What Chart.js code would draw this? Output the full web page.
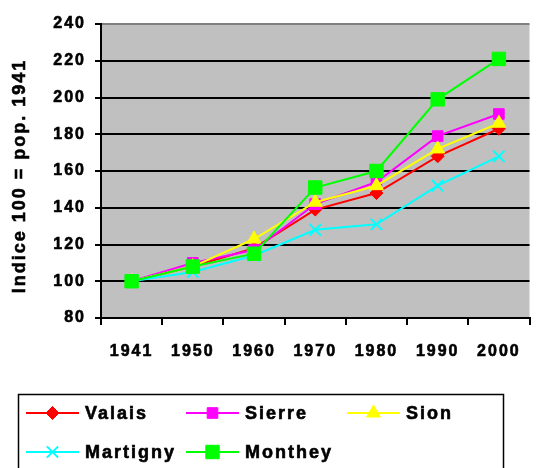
<!DOCTYPE html>
<html>
<head>
<meta charset="utf-8">
<script src="https://cdn.jsdelivr.net/npm/chart.js@4/dist/chart.umd.min.js"></script>
<style>
  body { margin: 0; background: #fff; }
  canvas { display: block; }
</style>
</head>
<body>
<canvas id="myChart" width="540" height="468"></canvas>
<script>
// data (index 100 = population 1941)
const years = ['1941', '1950', '1960', '1970', '1980', '1990', '2000'];
const valais = [100, 108, 118, 139, 148, 168, 183];
const sierre = [100, 110, 117, 142, 154, 179, 191];
const sion = [100, 108, 123, 143, 152, 172, 186];
const martigny = [100, 105, 114, 128, 131, 152, 168];
const monthey = [100, 108, 115, 151, 160, 199, 221];
const yTicks = [80, 100, 120, 140, 160, 180, 200, 220, 240];
const yTitle = 'Indice 100 = pop. 1941';

const fontFamily = 'Arial, "Liberation Sans", sans-serif';

// series look: color, marker, marker size
const series = [
    { label: 'Valais', data: valais, color: '#FF0000', style: 'rectRot', r: 6.5 },
    { label: 'Sierre', data: sierre, color: '#FF00FF', style: 'rect', r: 7.5 },
    { label: 'Sion', data: sion, color: '#FFFF00', style: 'triangle', r: 8 },
    { label: 'Martigny', data: martigny, color: '#00FFFF', style: 'crossRot', r: 8 },
    { label: 'Monthey', data: monthey, color: '#00FF00', style: 'rect', r: 9.5 }
];

const datasets = series.map((s, i) => ({
    label: s.label,
    data: s.data,
    borderColor: s.color,
    backgroundColor: s.color,
    borderWidth: 2,
    pointStyle: s.style,
    pointRadius: s.r,
    pointHoverRadius: s.r,
    pointBorderWidth: s.style === 'crossRot' ? 2 : 1,
    pointBackgroundColor: s.color,
    pointBorderColor: s.color,
    tension: 0,
    order: series.length - i
}));

// grey plot background + wider letter spacing like the original
const plotBg = {
    id: 'plotBg',
    beforeDraw(chart) {
        const ctx = chart.ctx, a = chart.chartArea;
        ctx.save();
        ctx.fillStyle = '#fff';
        ctx.fillRect(0, 0, chart.width, chart.height);
        ctx.fillStyle = '#C0C0C0';
        ctx.fillRect(a.left, a.top, a.right - a.left, a.bottom - a.top);
        ctx.restore();
        ctx.letterSpacing = '2px';
    }
};

function marker(ctx, style, x, y, r, color) {
    ctx.save();
    ctx.fillStyle = color;
    ctx.strokeStyle = color;
    ctx.lineWidth = style === 'crossRot' ? 2 : 1;
    ctx.beginPath();
    if (style === 'rectRot') {
        ctx.moveTo(x, y - r); ctx.lineTo(x + r, y); ctx.lineTo(x, y + r); ctx.lineTo(x - r, y);
        ctx.closePath(); ctx.fill(); ctx.stroke();
    } else if (style === 'rect') {
        const h = r * Math.SQRT1_2;
        ctx.rect(x - h, y - h, 2 * h, 2 * h); ctx.fill(); ctx.stroke();
    } else if (style === 'triangle') {
        ctx.moveTo(x, y - r);
        ctx.lineTo(x + Math.sin(2 * Math.PI / 3) * r, y - Math.cos(2 * Math.PI / 3) * r);
        ctx.lineTo(x + Math.sin(4 * Math.PI / 3) * r, y - Math.cos(4 * Math.PI / 3) * r);
        ctx.closePath(); ctx.fill(); ctx.stroke();
    } else if (style === 'crossRot') {
        const d = r * Math.SQRT1_2;
        ctx.moveTo(x - d, y - d); ctx.lineTo(x + d, y + d);
        ctx.moveTo(x + d, y - d); ctx.lineTo(x - d, y + d);
        ctx.stroke();
    }
    ctx.restore();
}

// y title + boxed legend under the chart (line with marker in the middle)
const boxLegend = {
    id: 'boxLegend',
    afterDraw(chart) {
        const ctx = chart.ctx;
        ctx.save();
        ctx.font = '700 18px ' + fontFamily;
        ctx.letterSpacing = '2px';
        ctx.textBaseline = 'middle';
        ctx.textAlign = 'center';
        ctx.fillStyle = '#000';
        ctx.strokeStyle = '#000';
        ctx.lineWidth = 0.6;
        ctx.translate(20, 176);
        ctx.rotate(-Math.PI / 2);
        ctx.strokeText(yTitle, 0, 0);
        ctx.fillText(yTitle, 0, 0);
        ctx.restore();

        ctx.save();
        ctx.strokeStyle = '#000';
        ctx.lineWidth = 1.5;
        ctx.strokeRect(18.5, 394.5, 485, 100);
        const cols = [26, 186, 347];
        const rows = [413, 452];
        ctx.font = '700 18px ' + fontFamily;
        ctx.letterSpacing = '2px';
        ctx.textBaseline = 'middle';
        series.forEach((s, i) => {
            const x = cols[i % 3], y = rows[Math.floor(i / 3)];
            ctx.strokeStyle = s.color;
            ctx.lineWidth = 2;
            ctx.beginPath();
            ctx.moveTo(x, y); ctx.lineTo(x + 53, y);
            ctx.stroke();
            marker(ctx, s.style, x + 26.5, y, s.r, s.color);
            ctx.fillStyle = '#000';
            ctx.strokeStyle = '#000';
            ctx.lineWidth = 0.6;
            ctx.strokeText(s.label, x + 59, y + 1);
            ctx.fillText(s.label, x + 59, y + 1);
        });
        ctx.restore();
    }
};

const config = {
    type: 'line',
    data: { labels: years, datasets },
    options: {
        responsive: false,
        animation: false,
        devicePixelRatio: 1,
        layout: { padding: { top: 24, right: 0, bottom: 100, left: 0 } },
        plugins: {
            legend: { display: false },
            tooltip: { enabled: false }
        },
        scales: {
            x: {
                offset: true,
                grid: {
                    offset: true,
                    drawOnChartArea: false,
                    drawTicks: true,
                    tickLength: 7,
                    color: '#000',
                    lineWidth: 2
                },
                border: { display: true, color: '#000', width: 2 },
                ticks: {
                    color: '#000',
                    padding: 17,
                    maxRotation: 0,
                    autoSkip: false,
                    textStrokeColor: '#000',
                    textStrokeWidth: 0.6,
                    font: { family: fontFamily, size: 16, weight: 700 }
                },
                afterFit(scale) { scale.height = 50; }
            },
            y: {
                min: 80,
                max: 240,
                afterBuildTicks(scale) { scale.ticks = yTicks.map(v => ({ value: v })); },
                grid: {
                    color: (c) => (c.tick && c.tick.value === 240 ? '#808080' : '#000'),
                    lineWidth: 2,
                    drawTicks: true,
                    tickLength: 6,
                    tickColor: '#000'
                },
                border: { display: true, color: '#000', width: 2 },
                ticks: {
                    color: '#000',
                    padding: 9,
                    textStrokeColor: '#000',
                    textStrokeWidth: 0.6,
                    font: { family: fontFamily, size: 16, weight: 700 }
                },
                afterFit(scale) { scale.width = 101; }
            }
        }
    },
    plugins: [plotBg, boxLegend]
};

const myChart = new Chart(document.getElementById('myChart'), config);
</script>
</body>
</html>
